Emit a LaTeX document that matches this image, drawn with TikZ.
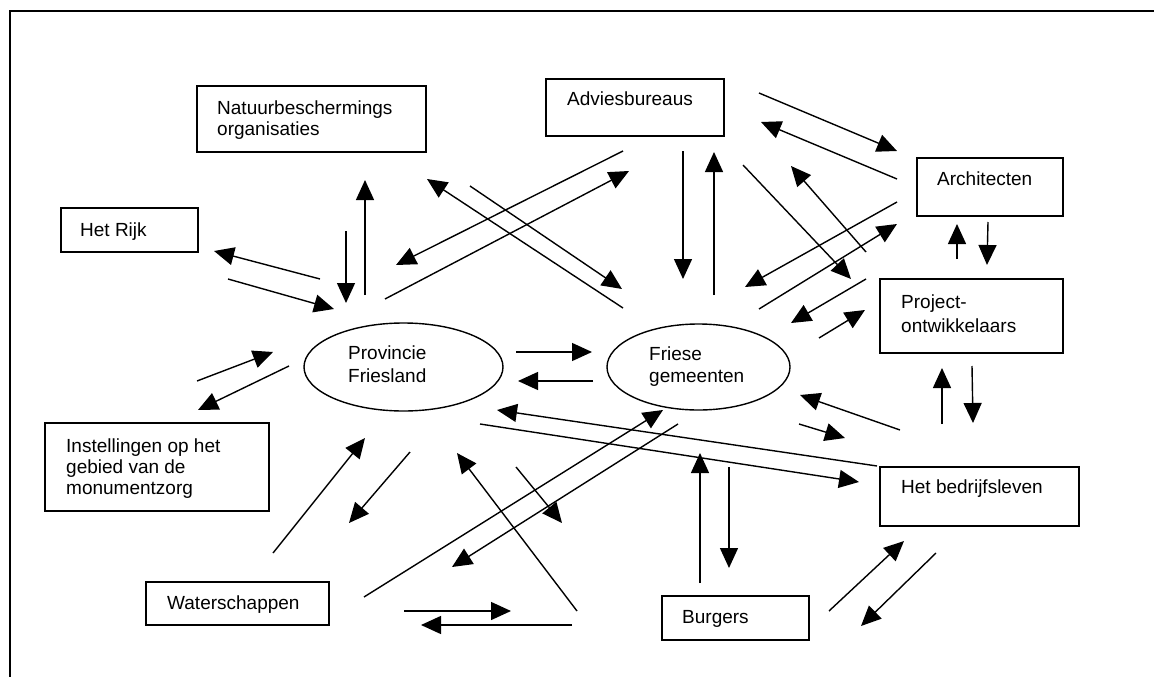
\documentclass[tikz,border=0pt]{standalone}
\usepackage{fontspec}
\setmainfont{Liberation Sans}
\usetikzlibrary{arrows.meta,shapes.geometric}
\newcommand\arrw[3]{\coordinate (#1s) at (#2); \coordinate (#1e) at (#3); \draw[arrline] (#1s) -- (#1e);}
\begin{document}
\begin{tikzpicture}[x=1pt,y=-1pt,
  box/.style={draw,line width=1.5pt,rectangle,inner sep=0pt},
  oval/.style={draw,line width=1.4pt,ellipse,inner sep=0pt},
  txt/.style={anchor=base west,inner sep=0pt,font=\fontsize{19}{23}\selectfont},
  arrline/.style={line width=1.4pt,-{Triangle[length=20pt,width=18pt]}},
  frameline/.style={line width=1.8pt}]
\useasboundingbox (0,0) rectangle (1154,677);
\draw[frameline] (10,677) -- (10,11) -- (1154,11);
% boxes
\node[box,minimum width=229pt,minimum height=66pt] (nat) at (311.5,119) {};
\node[box,minimum width=178pt,minimum height=57pt] (adv) at (635,107.5) {};
\node[box,minimum width=146pt,minimum height=58pt] (arch) at (990,187) {};
\node[box,minimum width=183pt,minimum height=74pt] (proj) at (971.5,316) {};
\node[box,minimum width=137pt,minimum height=44pt] (rijk) at (129.5,230) {};
\node[box,minimum width=224pt,minimum height=88pt] (inst) at (157,467) {};
\node[box,minimum width=183pt,minimum height=43pt] (water) at (237.5,603.5) {};
\node[box,minimum width=147pt,minimum height=44pt] (burg) at (735.5,618) {};
\node[box,minimum width=199pt,minimum height=59pt] (bedr) at (979.5,496.5) {};
\node[oval,minimum width=199pt,minimum height=88pt] (prov) at (403.5,367) {};
\node[oval,minimum width=183pt,minimum height=86pt] (fries) at (698.5,367) {};
% texts
\node[txt] (natA) at (217,114.5) {Natuurbeschermings};
\node[txt] (natB) at (217,135) {organisaties};
\node[txt] (advA) at (567,106) {Adviesbureaus};
\node[txt] (archA) at (937,185) {Architecten};
\node[txt] (projA) at (901,308) {Project-};
\node[txt] (projB) at (901,332) {ontwikkelaars};
\node[txt] (rijkA) at (80,236) {Het Rijk};
\node[txt] (instA) at (66,452) {Instellingen op het};
\node[txt] (instB) at (66,473) {gebied van de};
\node[txt] (instC) at (66,494) {monumentzorg};
\node[txt] (waterA) at (167,609) {Waterschappen};
\node[txt] (burgA) at (682,623) {Burgers};
\node[txt] (bedrA) at (901,493) {Het bedrijfsleven};
\node[txt] (provA) at (348,359) {Provincie};
\node[txt] (provB) at (348,382) {Friesland};
\node[txt] (friesA) at (649,360) {Friese};
\node[txt] (friesB) at (649,382) {gemeenten};
% arrows
\arrw{a1}{320,279}{214,251}
\arrw{a2}{228,279}{334,309}
\arrw{a3}{346,231}{346,303}
\arrw{a4}{365,295}{365,180}
\arrw{a5}{197,381}{273,352}
\arrw{a6}{289,366}{198,410}
\arrw{a7}{273,553}{365,438}
\arrw{a8}{410,452}{349,523}
\arrw{a9}{364,597}{663,410}
\arrw{a10}{678,424}{452,567}
\arrw{a11}{404,611}{511,611}
\arrw{a12}{572,625}{421,625}
\arrw{a13}{577,611}{457,453}
\arrw{a14}{516,467}{562,523}
\arrw{a15}{700,583}{700,453}
\arrw{a16}{729,467}{729,568}
\arrw{a17}{877,466}{497,410}
\arrw{a18}{480,424}{859,482}
\arrw{a19}{900,430}{800,395}
\arrw{a20}{799,424}{845,438}
\arrw{a21}{829,611}{904,541}
\arrw{a22}{936,553}{861,626}
\arrw{a23}{942,424}{942,368}
\arrw{a24}{972,366}{973,423}
\arrw{a25}{957,259}{957,224}
\arrw{a26}{988,222}{987,265}
\arrw{a27}{759,93}{897,151}
\arrw{a28}{897,179}{761,122}
\arrw{a29}{897,202}{745,287}
\arrw{a30}{759,309}{897,224}
\arrw{a31}{743,165}{851,279}
\arrw{a32}{866,252}{791,166}
\arrw{a33}{866,279}{791,323}
\arrw{a34}{819,338}{865,310}
\arrw{a35}{683,151}{683,279}
\arrw{a36}{714,295}{714,152}
\arrw{a37}{623,151}{396,265}
\arrw{a38}{385,299}{629,171}
\arrw{a39}{623,308}{427,179}
\arrw{a40}{470,186}{622,289}
\arrw{a41}{516,352}{592,352}
\arrw{a42}{593,381}{518,381}
\end{tikzpicture}
\end{document}
